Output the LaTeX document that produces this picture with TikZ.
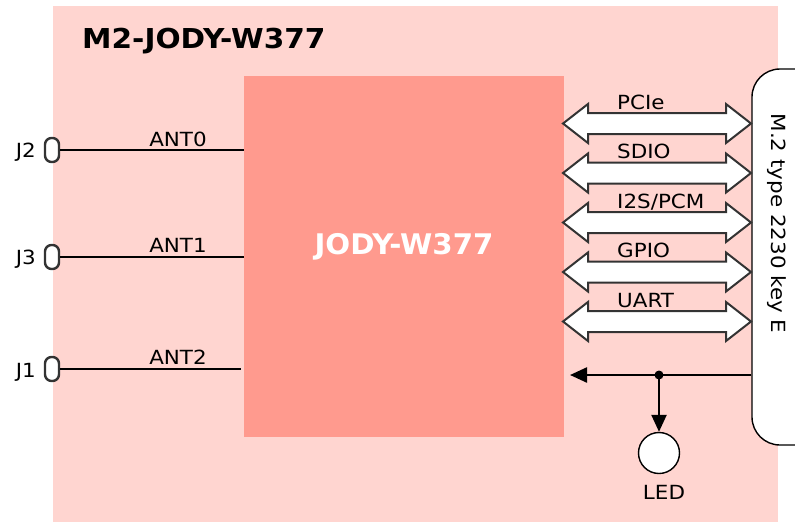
\documentclass[tikz,border=0pt]{standalone}
\usepackage{fontspec}
\setmainfont{DejaVu Sans}[FakeStretch=1.1]
\newfontfamily\titlefont{DejaVu Sans}[FakeStretch=1.08]
\newfontfamily\chipfont{DejaVu Sans}[FakeStretch=1.03]
\usetikzlibrary{arrows.meta,calc}
\definecolor{bgpink}{HTML}{FFD5D0}
\definecolor{chipred}{HTML}{FF9A8E}
\definecolor{arrowgray}{HTML}{333333}
\tikzset{
  lbl/.style={font=\fontsize{19.5}{21}\selectfont, inner sep=0pt, anchor=base},
  jconn/.style={draw=arrowgray, fill=white, line width=2.4pt, rounded corners=6.5pt,
    minimum width=14pt, minimum height=24pt, inner sep=0pt},
  wire/.style={line width=2.4pt, black},
  bus/.style={draw=arrowgray, fill=white, line width=2pt, line join=miter},
  sig/.style={line width=2.4pt, black, -{Triangle[length=17pt,width=15pt]}},
}
\newcommand{\dblarrow}[3]{% y-center, label, name
  \coordinate (#3) at (chip.east |- 0,#1);
  \draw[bus] (563,#1) -- (588,#1-19.5) -- (588,#1-10.5) -- (726,#1-10.5) -- (726,#1-19.5)
    -- (751,#1) -- (726,#1+19.5) -- (726,#1+10.5) -- (588,#1+10.5) -- (588,#1+19.5) -- cycle;
  \node[lbl, anchor=base west] (#3lbl) at (617,#1-14.5) {#2};
}
\begin{document}
\begin{tikzpicture}[x=1pt,y=-1pt]
\useasboundingbox (0,0) rectangle (795,522);
\fill[bgpink] (53,6) rectangle (778,522);
\node[anchor=base west, inner sep=0pt, font=\titlefont\bfseries\fontsize{27.4}{30}\selectfont] (title) at (82,48) {M2-JODY-W377};
\node[fill=chipred, minimum width=320pt, minimum height=361pt, inner sep=0pt] (chip) at (404,256.5) {};
\node[anchor=base, inner sep=0pt, text=white, font=\chipfont\bfseries\fontsize{28.4}{30}\selectfont] (chiplbl) at (404,254) {JODY-W377};
% M.2 connector
\node[draw=black, fill=white, line width=1.4pt, rounded corners=28pt, minimum width=88pt, minimum height=376pt, inner sep=0pt] (m2) at (796,257) {};
\node[lbl, anchor=center, rotate=-90] (m2lbl) at (777,223.5) {M.2 type 2230 key E};
% antenna connectors
\node[jconn] (j2) at (52,150) {};
\node[jconn] (j3) at (52,257) {};
\node[jconn] (j1) at (52,369) {};
\node[lbl, anchor=base east] (j2lbl) at (36,157) {J2};
\node[lbl, anchor=base east] (j3lbl) at (36,264) {J3};
\node[lbl, anchor=base east] (j1lbl) at (36,377) {J1};
\draw[wire] (j2.east) -- (chip.west |- j2.east);
\draw[wire] (j3.east) -- (chip.west |- j3.east);
\draw[wire] (j1.east) -- ([xshift=-3pt]chip.west |- j1.east);
\node[lbl] (ant0) at (178,146) {ANT0};
\node[lbl] (ant1) at (178,252) {ANT1};
\node[lbl] (ant2) at (178,364) {ANT2};
% buses
\dblarrow{123.5}{PCIe}{pcie}
\dblarrow{173}{SDIO}{sdio}
\dblarrow{222.5}{I2S/PCM}{i2s}
\dblarrow{272}{GPIO}{gpio}
\dblarrow{321.5}{UART}{uart}
% LED line
\coordinate (tap) at (659,375);
\coordinate (busend) at (570,375);
\node[draw=black, fill=white, circle, line width=1.4pt, minimum size=41pt, inner sep=0pt] (led) at (659,453) {};
\node[lbl] (ledlbl) at (664,499) {LED};
\draw[sig] (m2.west |- tap) -- (busend);
\draw[sig] (tap) -- (led.north);
\fill (tap) circle (4.5pt);
\end{tikzpicture}
\end{document}
